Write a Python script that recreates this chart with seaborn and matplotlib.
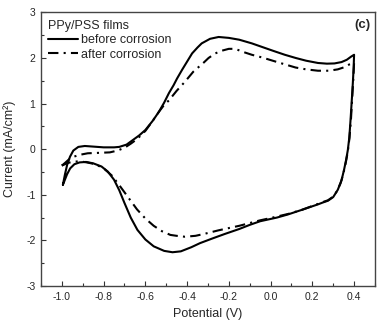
import matplotlib
matplotlib.use("Agg")
import matplotlib.pyplot as plt
from matplotlib.ticker import MultipleLocator
import seaborn as sns
import pandas as pd

# Cyclic voltammogram of PPy/PSS films, before corrosion (closed loop in scan order)
potential_before = [
    -0.995, -0.985, -0.975, -0.961, -0.945, -0.921, -0.89, -0.86, -0.80, -0.75,
    -0.725, -0.69, -0.66, -0.63, -0.60, -0.565, -0.535, -0.51, -0.487, -0.465,
    -0.448, -0.424, -0.40, -0.376, -0.35, -0.33, -0.29, -0.249, -0.20, -0.15,
    -0.09, -0.04, 0.01, 0.068, 0.12, 0.17, 0.227, 0.27, 0.306, 0.34,
    0.365, 0.386, 0.40,
    0.398, 0.394, 0.39, 0.383, 0.377, 0.37, 0.362, 0.352, 0.34, 0.322,
    0.30, 0.275, 0.25, 0.227, 0.15, 0.084, 0.03, -0.05, -0.10, -0.15,
    -0.22, -0.28, -0.338, -0.38, -0.43, -0.47, -0.51, -0.56, -0.60, -0.638,
    -0.67, -0.70, -0.725, -0.75, -0.78, -0.81, -0.85, -0.884, -0.915, -0.94,
    -0.96, -0.975, -0.988, -0.995,
]
current_before = [
    -0.78, -0.55, -0.35, -0.165, -0.03, 0.05, 0.07, 0.06, 0.04, 0.04,
    0.05, 0.10, 0.20, 0.30, 0.42, 0.62, 0.82, 1.02, 1.23, 1.40,
    1.55, 1.74, 1.92, 2.10, 2.23, 2.32, 2.42, 2.46, 2.44, 2.40,
    2.32, 2.24, 2.16, 2.07, 2.00, 1.94, 1.89, 1.875, 1.88, 1.91,
    1.96, 2.03, 2.07,
    1.80, 1.45, 1.15, 0.64, 0.25, -0.02, -0.23, -0.45, -0.68, -0.89,
    -1.05, -1.13, -1.17, -1.21, -1.33, -1.43, -1.50, -1.58, -1.66, -1.75,
    -1.86, -1.96, -2.06, -2.15, -2.24, -2.26, -2.23, -2.13, -1.98, -1.77,
    -1.50, -1.18, -0.90, -0.67, -0.49, -0.38, -0.31, -0.28, -0.29, -0.33,
    -0.42, -0.55, -0.70, -0.78,
]

# Same film after corrosion
potential_after = [
    -1.0, -0.987, -0.965, -0.94, -0.91, -0.876, -0.82, -0.77, -0.733, -0.70,
    -0.67, -0.64, -0.60, -0.565, -0.535, -0.51, -0.487, -0.45, -0.41, -0.37,
    -0.32, -0.297, -0.265, -0.233, -0.20, -0.17, -0.13, -0.09, -0.04, 0.01,
    0.068, 0.12, 0.17, 0.227, 0.28, 0.322, 0.355, 0.378, 0.40,
    0.397, 0.392, 0.385, 0.378, 0.37, 0.36, 0.348, 0.335, 0.318, 0.30,
    0.275, 0.25, 0.227, 0.15, 0.084, 0.0, -0.05, -0.15, -0.25, -0.32,
    -0.36, -0.41, -0.45, -0.48, -0.52, -0.56, -0.60, -0.64, -0.68, -0.72,
    -0.76, -0.80, -0.84, -0.88, -0.91, -0.94, -0.97, -1.0,
]
current_after = [
    -0.36, -0.31, -0.22, -0.16, -0.12, -0.09, -0.08, -0.07, -0.03, 0.03,
    0.12, 0.22, 0.40, 0.62, 0.82, 0.97, 1.07, 1.28, 1.48, 1.70,
    1.90, 2.00, 2.10, 2.16, 2.20, 2.20, 2.13, 2.07, 2.01, 1.94,
    1.86, 1.79, 1.75, 1.72, 1.72, 1.75, 1.80, 1.86, 1.90,
    1.60, 1.20, 0.65, 0.25, -0.05, -0.30, -0.55, -0.75, -0.92, -1.04,
    -1.12, -1.16, -1.20, -1.33, -1.42, -1.51, -1.56, -1.68, -1.78, -1.86,
    -1.90, -1.92, -1.90, -1.88, -1.80, -1.68, -1.52, -1.32, -1.07, -0.82,
    -0.58, -0.42, -0.33, -0.29, -0.27, -0.27, -0.30, -0.36,
]

series_labels = ["before corrosion", "after corrosion"]
legend_title = "PPy/PSS films"
panel_tag = "(c)"

x_ticks = [-1.0, -0.8, -0.6, -0.4, -0.2, 0.0, 0.2, 0.4]
y_ticks = [-3, -2, -1, 0, 1, 2, 3]

sns.set_style("ticks")
plt.rcParams["font.family"] = ["Liberation Sans", "DejaVu Sans"]
plt.rcParams["axes.unicode_minus"] = False

fig = plt.figure(figsize=(3.83, 3.25), dpi=100)
ax = fig.add_axes([0.107, 0.12, 0.872, 0.842])

df_before = pd.DataFrame({"E": potential_before, "I": current_before})
df_after = pd.DataFrame({"E": potential_after, "I": current_after})

sns.lineplot(data=df_before, x="E", y="I", sort=False, estimator=None, ax=ax,
             color="black", linewidth=1.5, label=series_labels[0])
sns.lineplot(data=df_after, x="E", y="I", sort=False, estimator=None, ax=ax,
             color="black", linewidth=1.5, linestyle=(0, (5, 2.5, 1, 2.5)),
             label=series_labels[1])

ax.set_xlim(-1.1, 0.5)
ax.set_ylim(-3, 3)
ax.set_xticks(x_ticks)
ax.set_xticklabels([f"{v:.1f}" for v in x_ticks])
ax.set_yticks(y_ticks)
ax.set_yticklabels([str(v) for v in y_ticks])
ax.xaxis.set_minor_locator(MultipleLocator(0.1))
ax.yaxis.set_minor_locator(MultipleLocator(0.5))
ax.tick_params(which="both", direction="in", top=False, right=False,
               labelsize=7.5, color="#333333")
ax.tick_params(which="major", length=3.5, width=0.8, pad=4)
ax.tick_params(which="minor", length=2, width=0.8)
for side in ax.spines.values():
    side.set_color("#444444")
    side.set_linewidth(1.0)

ax.set_xlabel("Potential (V)", fontsize=9, labelpad=5)
ax.set_ylabel("Current (mA/cm²)", fontsize=9, labelpad=7)

leg = ax.legend(title=legend_title, loc="upper left", frameon=False,
                fontsize=9, title_fontsize=9, handlelength=2.4,
                handletextpad=0.2, labelspacing=0.2, borderaxespad=0.3,
                borderpad=0.3, alignment="left")

ax.text(0.988, 0.952, panel_tag, transform=ax.transAxes, ha="right",
        va="center", fontsize=9.5, fontweight="bold")

fig.savefig("out.png", dpi=100)
